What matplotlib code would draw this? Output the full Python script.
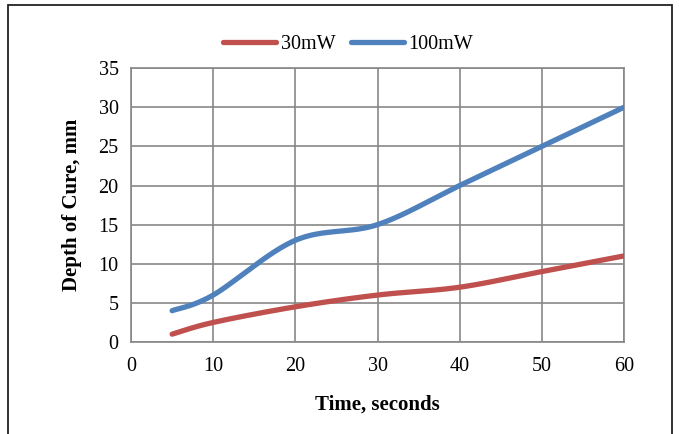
import numpy as np
import matplotlib
matplotlib.use("Agg")
import matplotlib.pyplot as plt
from matplotlib.patches import Rectangle

time_s = [5, 10, 20, 30, 40, 50, 60]
depth_30mW = [1, 2.5, 4.5, 6, 7, 9, 11]
depth_100mW = [4, 6, 13, 15, 20, 25, 30]
series_names = ["30mW", "100mW"]
colors = ["#C0504D", "#4F81BD"]

plt.rcParams['font.family'] = ['Liberation Serif', 'DejaVu Serif']


def smooth(xs, ys, n=30):
    xs = np.asarray(xs, float); ys = np.asarray(ys, float)
    P = np.column_stack([xs, ys])
    out = []
    for i in range(len(P) - 1):
        p0 = P[i - 1] if i > 0 else P[i]
        p1 = P[i]; p2 = P[i + 1]
        p3 = P[i + 2] if i + 2 < len(P) else P[i + 1]
        c1 = p1 + (p2 - p0) / 6.0
        c2 = p2 - (p3 - p1) / 6.0
        t = np.linspace(0, 1, n)[:, None]
        seg = ((1 - t) ** 3) * p1 + 3 * ((1 - t) ** 2) * t * c1 + 3 * (1 - t) * t ** 2 * c2 + t ** 3 * p2
        out.append(seg if i == 0 else seg[1:])
    out = np.vstack(out)
    return out[:, 0], out[:, 1]


fig = plt.figure(figsize=(6.79, 4.34), dpi=100)
ax = fig.add_axes([0.193, 0.212, 0.726, 0.631])

for ys, name, c in zip([depth_30mW, depth_100mW], series_names, colors):
    sx, sy = smooth(time_s, ys)
    ax.plot(sx, sy, color=c, lw=3.8, solid_capstyle='round', label=name, zorder=3)

ax.set_xlim(0, 60)
ax.set_ylim(0, 35)
ax.set_xticks(range(0, 61, 10))
ax.set_yticks(range(0, 36, 5))
ax.grid(True, color='#878787', lw=1.2)
ax.set_axisbelow(True)
for s in ax.spines.values():
    s.set_color('#878787'); s.set_linewidth(1.2)
ax.tick_params(axis='x', length=0, labelsize=14.5, pad=11)
ax.tick_params(axis='y', length=0, labelsize=14.5, pad=9)
ax.set_xlabel("Time, seconds", fontsize=15, fontweight='bold', labelpad=13)
ax.set_ylabel("Depth of Cure, mm", fontsize=15, fontweight='bold', labelpad=12)

leg = fig.legend(loc='center', bbox_to_anchor=(0.513, 0.897), ncol=2, frameon=False,
                 fontsize=14.5, handlelength=2.6, handletextpad=0.25, columnspacing=0.8)

fig.patches.append(Rectangle((8 / 679, -0.1), (672 - 8) / 679, 1.1 - 5 / 434,
                             transform=fig.transFigure, fill=False, edgecolor='#222222', lw=1.3))

fig.savefig("out.png", dpi=100)
